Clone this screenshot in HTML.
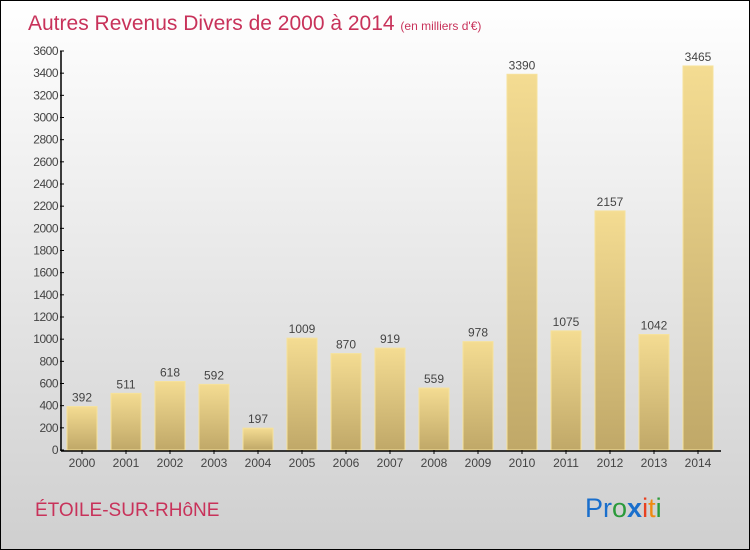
<!DOCTYPE html>
<html><head><meta charset="utf-8"><style>
body{margin:0}
#c{width:748px;height:548px;border:1px solid #000;background:linear-gradient(#fff,#cfcfcf);position:relative;font-family:"Liberation Sans",sans-serif;overflow:hidden}
</style></head><body>
<div id="c">
<svg id="s" width="748" height="548" style="position:absolute;left:0;top:0">
<defs><linearGradient id="g" x1="0" y1="0" x2="0" y2="1"><stop offset="0" stop-color="#f4dc92"/><stop offset="1" stop-color="#c0a868"/></linearGradient></defs>
<text x="27" y="29" font-size="21" fill="#c8325a">Autres Revenus Divers de 2000 à 2014 <tspan font-size="12">(en milliers d'€)</tspan></text>
<text x="34" y="515" font-size="19" fill="#c8325a">ÉTOILE-SUR-RHôNE</text>
<text x="584" y="516" font-size="27"><tspan fill="#1a6fcc">Pr</tspan><tspan fill="#2a9a3a">o</tspan><tspan fill="#1a6fcc" font-weight="bold">x</tspan><tspan fill="#e84020">i</tspan><tspan fill="#f08a10">t</tspan><tspan fill="#2a9a3a">i</tspan></text>
<g id="plot"></g>
</svg>
</div>
<script>
const years=["2000","2001","2002","2003","2004","2005","2006","2007","2008","2009","2010","2011","2012","2013","2014"];
const values=[392,511,618,592,197,1009,870,919,559,978,3390,1075,2157,1042,3465];
const ticks=[0,200,400,600,800,1000,1200,1400,1600,1800,2000,2200,2400,2600,2800,3000,3200,3400,3600];
const NS="http://www.w3.org/2000/svg";
const g=document.getElementById('plot');
const y=v=>449-v*(399/3600);
const x=i=>81+i*44;
function mk(t,a,txt){const e=document.createElementNS(NS,t);for(const k in a)e.setAttribute(k,a[k]);if(txt!=null)e.textContent=txt;g.appendChild(e);return e;}
values.forEach((v,i)=>{
 const r=mk('rect',{x:x(i)-15,y:y(v),width:30,height:449-y(v),fill:'url(#g)',stroke:'#f6e29c','stroke-width':1});
 
 
 const l=mk('text',{x:x(i),y:y(v)-5,'text-anchor':'middle','font-size':12,fill:'#444'},String(v));
 
 
 const xl=mk('text',{x:x(i),y:466,'text-anchor':'middle','font-size':12,fill:'#444'},years[i]);
 
 
 mk('line',{x1:x(i),x2:x(i),y1:449,y2:453,stroke:'#000'});
});
ticks.forEach(t=>{
 mk('line',{x1:59,x2:63,y1:y(t),y2:y(t),stroke:'#000'});
 const tl=mk('text',{x:57,y:y(t)+4,'text-anchor':'end','font-size':12,fill:'#444','letter-spacing':'-0.5'},String(t));
 
 
});
const ya=mk('line',{x1:60,x2:60,y1:y(3600),y2:450,stroke:'#000','stroke-width':1.5});


const xa=mk('line',{x1:60,x2:720,y1:450,y2:450,stroke:'#000','stroke-width':1.5});


</script>
</body></html>
